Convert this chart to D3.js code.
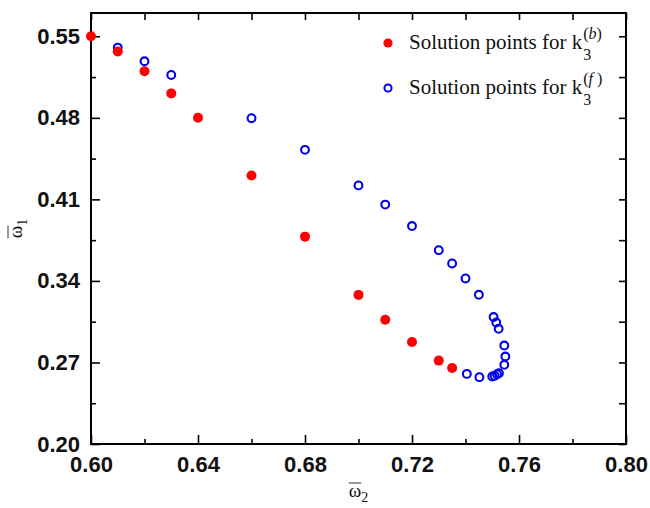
<!DOCTYPE html>
<html>
<head>
<meta charset="utf-8">
<script src="https://cdn.jsdelivr.net/npm/d3@7"></script>
<style>
  body { margin: 0; background: #fff; }
  svg { display: block; }
  .tick text { font-family: "Liberation Sans", Arial, sans-serif; font-weight: bold; font-size: 22px; fill: #111; }
  .tick line { stroke: #000; stroke-width: 1.6; }
  .serif { font-family: "Liberation Serif", "Times New Roman", serif; fill: #111; }
</style>
</head>
<body>
<svg width="650" height="508"></svg>
<script>
// solution points
var bX = [0.600, 0.610, 0.620, 0.630, 0.640, 0.660, 0.680, 0.700, 0.710, 0.720, 0.730, 0.735];
var bY = [0.550, 0.537, 0.520, 0.501, 0.480, 0.4305, 0.378, 0.328, 0.3066, 0.2875, 0.2716, 0.2652];

var fX = [0.610, 0.620, 0.630, 0.660, 0.680, 0.700, 0.710, 0.720, 0.730, 0.735, 0.740, 0.745,
          0.7505, 0.7515, 0.7524, 0.7545, 0.7549, 0.7545, 0.7525, 0.7518, 0.7509, 0.7500, 0.7452, 0.7405];
var fY = [0.5403, 0.5286, 0.5168, 0.4797, 0.4525, 0.4220, 0.4055, 0.3871, 0.3664, 0.3550, 0.3421, 0.3281,
          0.3090, 0.3043, 0.2989, 0.2845, 0.2751, 0.2680, 0.2608, 0.2599, 0.2585, 0.2579, 0.2574, 0.2602];

var xMajor = [0.60, 0.64, 0.68, 0.72, 0.76, 0.80];
var xMinor = [0.62, 0.66, 0.70, 0.74, 0.78];
var yMajor = [0.20, 0.27, 0.34, 0.41, 0.48, 0.55];
var yMinor = [0.235, 0.305, 0.375, 0.445, 0.515];

var svg = d3.select("svg");
var pLeft = 91, pRight = 626, pTop = 13, pBottom = 444;

var x = d3.scaleLinear().domain([0.60, 0.80]).range([pLeft, pRight]);
var y = d3.scaleLinear().domain([0.20, 0.57]).range([pBottom, pTop]);

var fmt = d3.format(".2f");

// bottom
svg.append("g").attr("transform", "translate(0," + pBottom + ")")
    .call(d3.axisBottom(x).tickValues(xMajor).tickFormat(fmt).tickSizeInner(-9).tickSizeOuter(0).tickPadding(12))
    .call(g => g.select(".domain").remove());
svg.append("g").attr("transform", "translate(0," + pBottom + ")")
    .call(d3.axisBottom(x).tickValues(xMinor).tickFormat("").tickSizeInner(-5).tickSizeOuter(0))
    .call(g => g.select(".domain").remove());
// top
svg.append("g").attr("transform", "translate(0," + pTop + ")")
    .call(d3.axisTop(x).tickValues(xMajor.concat(xMinor)).tickFormat("").tickSizeInner(-7).tickSizeOuter(0))
    .call(g => g.select(".domain").remove());
// left
svg.append("g").attr("transform", "translate(" + pLeft + ",0)")
    .call(d3.axisLeft(y).tickValues(yMajor).tickFormat(fmt).tickSizeInner(-9).tickSizeOuter(0).tickPadding(11))
    .call(g => g.select(".domain").remove());
svg.append("g").attr("transform", "translate(" + pLeft + ",0)")
    .call(d3.axisLeft(y).tickValues(yMinor).tickFormat("").tickSizeInner(-5).tickSizeOuter(0))
    .call(g => g.select(".domain").remove());
// right
svg.append("g").attr("transform", "translate(" + pRight + ",0)")
    .call(d3.axisRight(y).tickValues(yMajor.concat(yMinor)).tickFormat("").tickSizeInner(-7).tickSizeOuter(0))
    .call(g => g.select(".domain").remove());

// frame
svg.append("rect")
    .attr("x", pLeft).attr("y", pTop)
    .attr("width", pRight - pLeft).attr("height", pBottom - pTop)
    .attr("fill", "none").attr("stroke", "#000").attr("stroke-width", 2);

// points
svg.append("g").selectAll("circle").data(d3.range(fX.length)).join("circle")
    .attr("cx", i => x(fX[i])).attr("cy", i => y(fY[i])).attr("r", 3.9)
    .attr("fill", "none").attr("stroke", "#0000ee").attr("stroke-width", 2.1);
svg.append("g").selectAll("circle").data(d3.range(bX.length)).join("circle")
    .attr("cx", i => x(bX[i])).attr("cy", i => y(bY[i])).attr("r", 5)
    .attr("fill", "#ff0000");

// legend
function legendRow(cy, sup, sym) {
  if (sym === "b") {
    svg.append("circle").attr("cx", 388).attr("cy", cy).attr("r", 4.6).attr("fill", "#ff0000");
  } else {
    svg.append("circle").attr("cx", 388).attr("cy", cy).attr("r", 3.6)
      .attr("fill", "none").attr("stroke", "#0000ee").attr("stroke-width", 2);
  }
  var t = svg.append("text").attr("class", "serif").attr("x", 409).attr("y", cy + 6)
      .style("font-size", "21px").text("Solution points for k");
  var end = 409 + t.node().getComputedTextLength() + 1;
  svg.append("text").attr("class", "serif").attr("x", end).attr("y", cy + 17)
      .style("font-size", "16px").text("3");
  var s = svg.append("text").attr("class", "serif").attr("x", end).attr("y", cy - 4)
      .style("font-size", "16px");
  s.append("tspan").text("(");
  s.append("tspan").style("font-style", "italic").text(sup);
  s.append("tspan").text(")");
}
legendRow(43, "b", "b");
legendRow(88, "f ", "f");

// axis titles
function omegaTitle(g, sub) {
  var t = g.append("text").attr("class", "serif").style("font-size", "19px");
  var w = t.append("tspan").text("\u03c9");
  t.append("tspan").attr("dy", 5).style("font-size", "14px").text(sub);
  var bb = t.node().getBBox();
  t.attr("x", -bb.width / 2);
  var wl = w.node().getComputedTextLength();
  g.append("line").attr("x1", -bb.width / 2).attr("x2", -bb.width / 2 + wl)
    .attr("y1", -14).attr("y2", -14).attr("stroke", "#333").attr("stroke-width", 1);
}
omegaTitle(svg.append("g").attr("transform", "translate(" + (pLeft + pRight) / 2 + ",497)"), "2");
omegaTitle(svg.append("g").attr("transform", "translate(22," + (pTop + pBottom) / 2 + ") rotate(-90)"), "1");
</script>
</body>
</html>
